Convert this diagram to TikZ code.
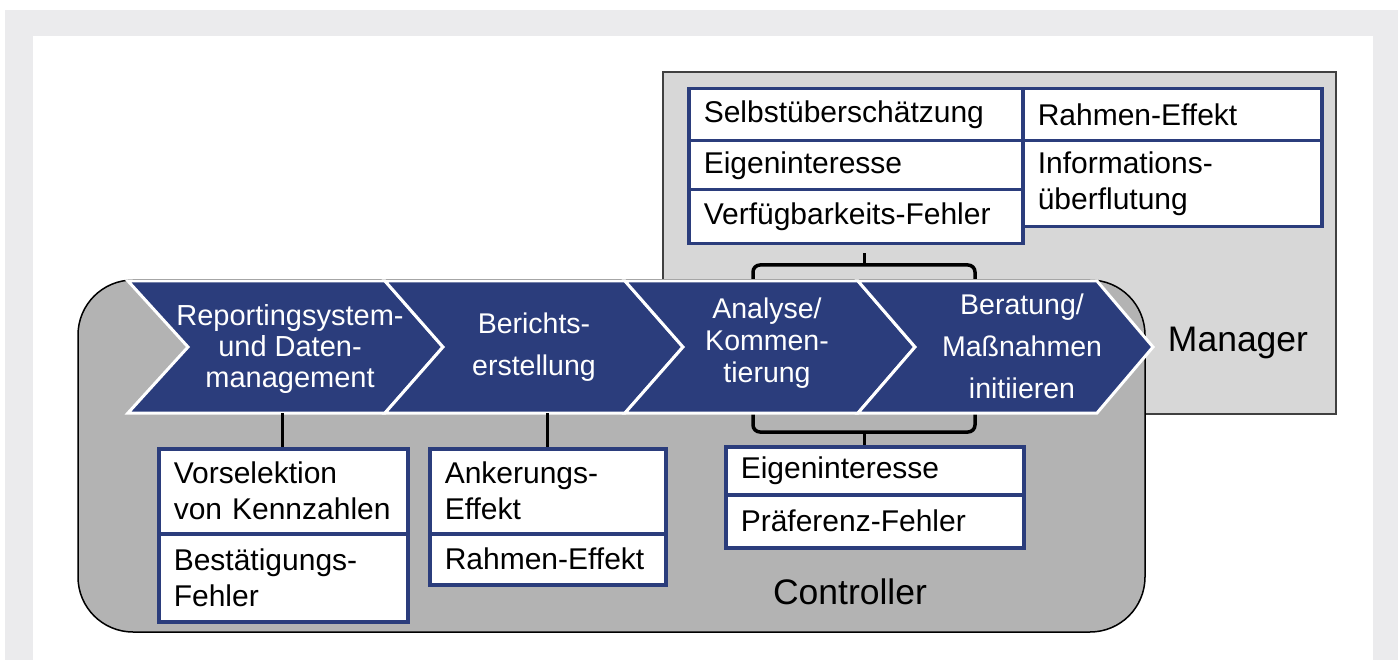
\documentclass[tikz,border=0pt]{standalone}
\usepackage{fontspec}
\setmainfont{Liberation Sans}
\definecolor{navy}{HTML}{2B3D7C}
\definecolor{framegray}{HTML}{EBEBED}
\definecolor{mgrgray}{HTML}{D7D7D7}
\definecolor{ctlgray}{HTML}{B3B3B3}
\begin{document}
\begin{tikzpicture}[x=1pt,y=-1pt,
  cell/.style={draw=navy, line width=3.5pt, fill=white, inner xsep=15pt, inner ysep=0pt,
    anchor=north west, align=left, font=\fontsize{30}{36}\selectfont},
  chev/.style={fill=navy, draw=white, line width=3pt, line join=miter},
  chtext/.style={text=white, align=center},
  brk/.style={draw=black, line width=3.5pt, rounded corners=7pt},
  stem/.style={draw=black, line width=3pt},
  role/.style={font=\fontsize{35.5}{40}\selectfont}]
\useasboundingbox (0,0) rectangle (1398,660);
% frame
\fill[framegray] (5,10) rectangle (1398,660);
\fill[white] (33,36) rectangle (1373,660);
% role areas
\draw[fill=mgrgray, draw=black!75, line width=1.5pt] (663,72) rectangle (1336,414);
\draw[fill=ctlgray, draw=black, line width=1.5pt, rounded corners=55pt] (78,280) rectangle (1145,632);
% brackets
\draw[brk] (753,282) -- (753,265) -- (975,265) -- (975,282);
\draw[brk] (753,414) -- (753,432) -- (975,432) -- (975,414);
\coordinate (tb) at (864,265);
\coordinate (bb) at (864,432);
% chevrons
\path[chev] (128,281) -- (385,281) -- (443,347) -- (385,413) -- (128,413) -- (188,347) -- cycle;
\path[chev] (385,281) -- (625,281) -- (683,347) -- (625,413) -- (385,413) -- (443,347) -- cycle;
\path[chev] (625,281) -- (858,281) -- (915,347) -- (858,413) -- (625,413) -- (683,347) -- cycle;
\path[chev] (858,281) -- (1097,281) -- (1153,347) -- (1097,413) -- (858,413) -- (915,347) -- cycle;
\node[chtext, font=\fontsize{29}{31}\selectfont] (t1) at (290,349) {Reportingsystem-\\und Daten-\\management};
\node[chtext, font=\fontsize{28.5}{42}\selectfont] (t2) at (534,347) {Berichts-\\erstellung};
\node[chtext, font=\fontsize{28.5}{32}\selectfont] (t3) at (767,343) {Analyse/\\Kommen-\\tierung};
\node[chtext, font=\fontsize{28.5}{42}\selectfont] (t4) at (1022,346) {Beratung/\\Maßnahmen\\initiieren};
\coordinate (c1b) at (282,413);
\coordinate (c2b) at (547,413);
% labels
\node[role] (mgr) at (1238,343) {Manager};
\node[role] (ctl) at (850,592) {Controller};
% manager cells
\node[cell, text width=304pt, minimum height=52pt] (s1) at (687,87) {Selbstüberschätzung};
\node[cell, text width=304pt, minimum height=49pt] (s2) at (687,139) {Eigeninteresse};
\node[cell, text width=304pt, minimum height=54pt] (s3) at (687,188) {Verfügbarkeits-Fehler};
\node[cell, text width=269pt, minimum height=52pt] (r1) at (1021,87) {Rahmen-Effekt};
\node[cell, text width=269pt, minimum height=86pt] (r2) at (1021,139) {Informations-\\überflutung};
% controller cells
\node[cell, text width=219pt, minimum height=85pt] (a1) at (157,447) {Vorselektion\\von Kennzahlen};
\node[cell, text width=219pt, minimum height=88pt] (a2) at (157,532) {Bestätigungs-\\Fehler};
\node[cell, text width=206pt, minimum height=85pt] (b1) at (428,447) {Ankerungs-\\Effekt};
\node[cell, text width=206pt, minimum height=51pt] (b2) at (428,532) {Rahmen-Effekt};
\node[cell, text width=268pt, minimum height=48pt] (e1) at (724,445) {Eigeninteresse};
\node[cell, text width=268pt, minimum height=53pt] (e2) at (724,493) {Präferenz-Fehler};
% stems
\draw[stem] (tb) -- ([yshift=-8pt]tb |- s3.south);
\draw[stem] (bb) -- (bb |- e1.north);
\draw[stem] (c1b) -- (c1b |- a1.north);
\draw[stem] (c2b) -- (c2b |- b1.north);
\end{tikzpicture}
\end{document}
